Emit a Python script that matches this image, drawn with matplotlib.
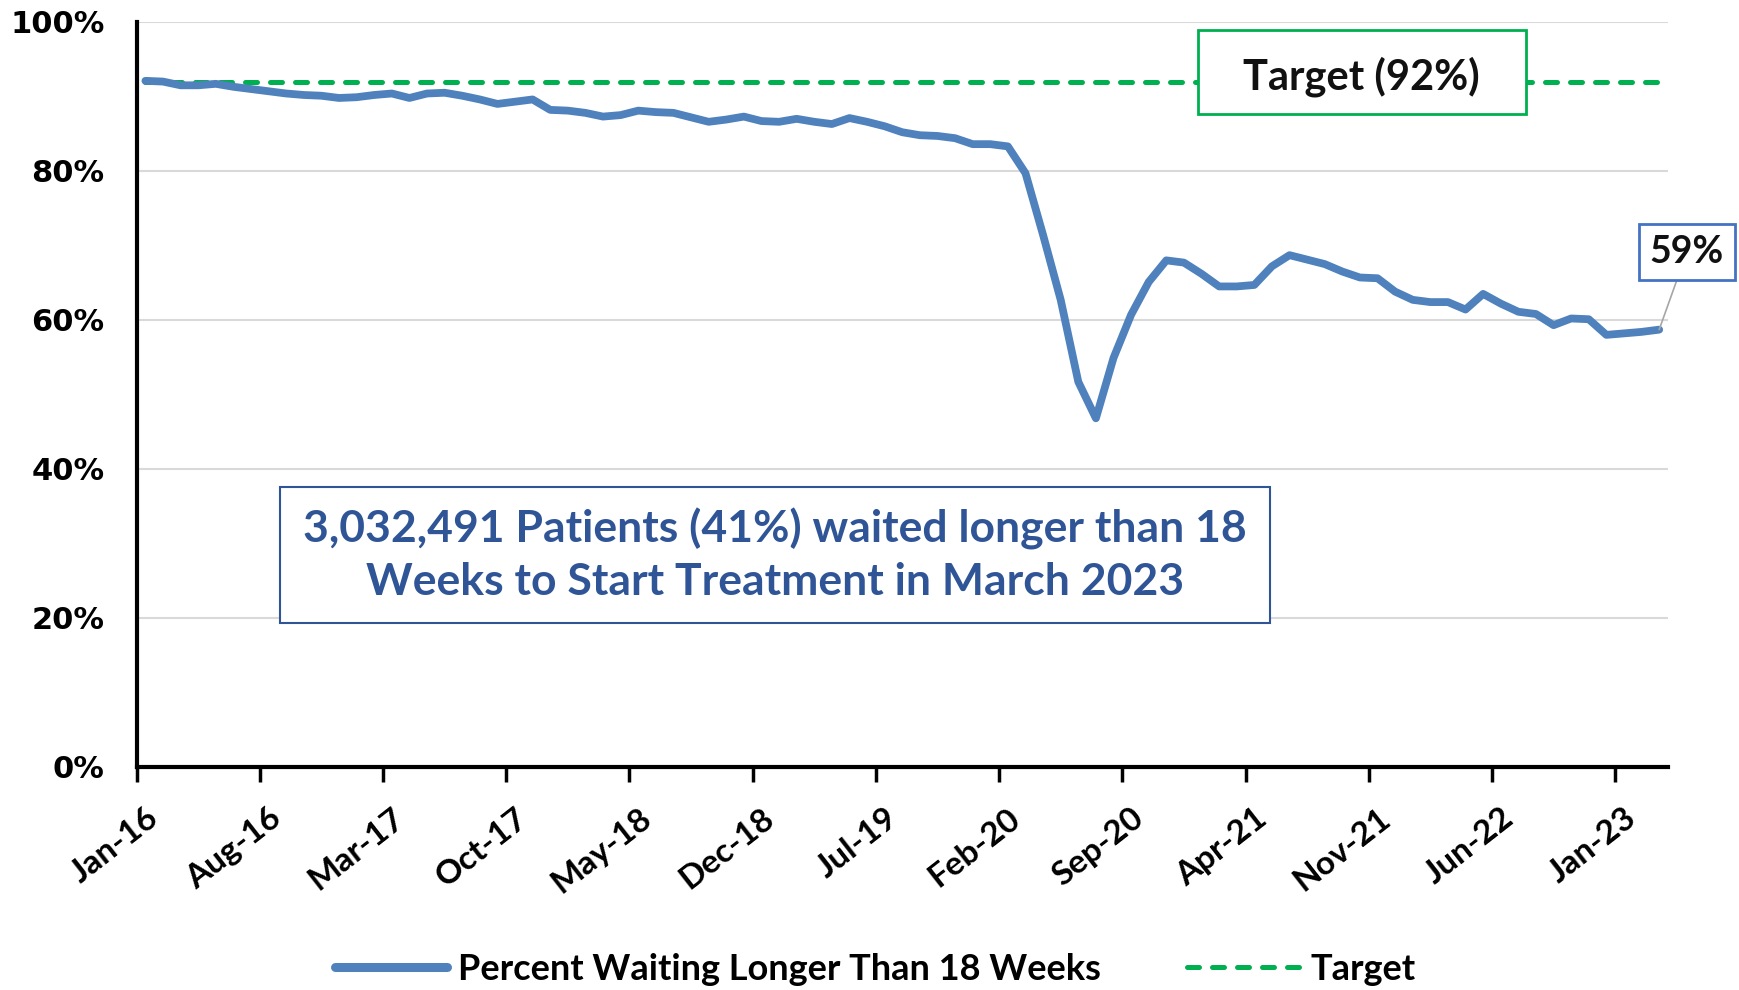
import matplotlib
matplotlib.use("Agg")
import matplotlib.pyplot as plt
from matplotlib.patches import Rectangle
from matplotlib.ticker import FixedLocator, FuncFormatter
import pandas as pd

# monthly share of patients on the RTT waiting list (Jan-16 .. Mar-23)
months = pd.date_range("2016-01-01", periods=87, freq="MS").strftime("%b-%y").tolist()
pct_waiting = [
    92.1, 92.0, 91.5, 91.5, 91.7, 91.3, 91.0, 90.7, 90.4, 90.2, 90.1, 89.8,
    89.9, 90.2, 90.4, 89.8, 90.4, 90.5, 90.1, 89.6, 89.0, 89.3, 89.6, 88.2,
    88.1, 87.8, 87.3, 87.5, 88.1, 87.9, 87.8, 87.2, 86.6, 86.9, 87.3, 86.7,
    86.6, 87.0, 86.6, 86.3, 87.1, 86.6, 86.0, 85.2, 84.8, 84.7, 84.4, 83.6,
    83.6, 83.3, 79.7, 71.4, 62.7, 51.7, 46.8, 54.9, 60.7, 65.1, 68.0, 67.7,
    66.2, 64.5, 64.5, 64.7, 67.2, 68.7, 68.1, 67.5, 66.5, 65.7, 65.6, 63.8,
    62.7, 62.4, 62.4, 61.4, 63.5, 62.2, 61.1, 60.8, 59.3, 60.2, 60.1, 58.0,
    58.2, 58.4, 58.7,
]
target = [92.0] * len(months)
label_every = 7
y_ticks = [0, 20, 40, 60, 80, 100]

note_text = ("3,032,491 Patients (41%) waited longer than 18\n"
             "Weeks to Start Treatment in March 2023")

blue = "#4F81BD"
green = "#00B050"
navy = "#2F5597"

fig = plt.figure(figsize=(17.4, 9.9), dpi=100)
ax = fig.add_axes([0.0785, 0.2253, 0.8801, 0.7525])

x = list(range(len(months)))
ax.plot(x, pct_waiting, color=blue, lw=5.6, solid_joinstyle="round",
        solid_capstyle="round", label="Percent Waiting Longer Than 18 Weeks", zorder=3)
ax.plot(x, target, color=green, lw=3.6, dashes=(2.4, 2.6), dash_capstyle="round",
        label="Target", zorder=2)

ax.set_xlim(-0.5, len(months) - 0.5)
ax.set_ylim(0, 100)

# y axis
ax.set_yticks(y_ticks)
ax.yaxis.set_major_formatter(FuncFormatter(lambda v, _: f"{v:.0f}%"))
ax.tick_params(axis="y", length=0, pad=23)
for lab in ax.get_yticklabels():
    lab.set_fontfamily("DejaVu Sans")
    lab.set_fontweight("bold")
    lab.set_fontsize(22)
ax.grid(axis="y", color="#D9D9D9", lw=1.5, zorder=0)

# x axis: tick marks on category boundaries, labels on categories
label_pos = x[::label_every]
ax.xaxis.set_major_locator(FixedLocator(label_pos))
ax.set_xticklabels([months[i] for i in label_pos], rotation=38, ha="right",
                   rotation_mode="anchor", fontfamily="Lato", fontweight="bold",
                   fontsize=24)
ax.tick_params(axis="x", which="major", length=0, pad=26)
ax.xaxis.set_minor_locator(FixedLocator([i - 0.5 for i in label_pos]))
ax.tick_params(axis="x", which="minor", length=11, width=2.5, color="black")

for side in ("top", "right"):
    ax.spines[side].set_visible(False)
for side in ("left", "bottom"):
    ax.spines[side].set_linewidth(3)
    ax.spines[side].set_color("black")

# target callout
ax.add_patch(Rectangle((0.693, 0.8765), 0.214, 0.1125, transform=ax.transAxes,
                       facecolor="white", edgecolor=green, lw=2, zorder=4, clip_on=False))
ax.text(0.80, 0.927, f"Target ({target[-1]:.0f}%)", transform=ax.transAxes,
        ha="center", va="center", fontsize=30, fontweight="bold",
        fontfamily="Lato", color="#111111", zorder=5)

# headline note
ax.add_patch(Rectangle((0.0937, 0.1933), 0.6463, 0.1825, transform=ax.transAxes,
                       facecolor="white", edgecolor=navy, lw=1.5, zorder=4))
ax.text(0.4168, 0.2846, note_text, transform=ax.transAxes, ha="center",
        va="center", fontsize=32, fontweight="bold", fontfamily="Lato",
        color=navy, linespacing=1.35, zorder=5)

# latest value label
ax.annotate(f"{round(pct_waiting[-1])}%", xy=(x[-1], pct_waiting[-1]),
            xycoords="data", xytext=(0.9695, 0.7455), textcoords="figure fraction",
            ha="center", va="center", fontsize=27, fontweight="bold",
            fontfamily="Lato", color="#111111", zorder=6,
            bbox=dict(boxstyle="square,pad=0.3", facecolor="white",
                      edgecolor="#4472C4", lw=2),
            arrowprops=dict(arrowstyle="-", color="#A6A6A6", lw=1.2,
                            shrinkA=0, shrinkB=0))

leg = fig.legend(loc="center", bbox_to_anchor=(0.503, 0.021), ncol=2,
                 frameon=False, handlelength=3.1, columnspacing=2.4,
                 handletextpad=0.3, prop={"family": "Lato", "weight": "bold", "size": 26})
leg.get_lines()[0].set_linewidth(6.5)

fig.savefig("out.png", dpi=100)
